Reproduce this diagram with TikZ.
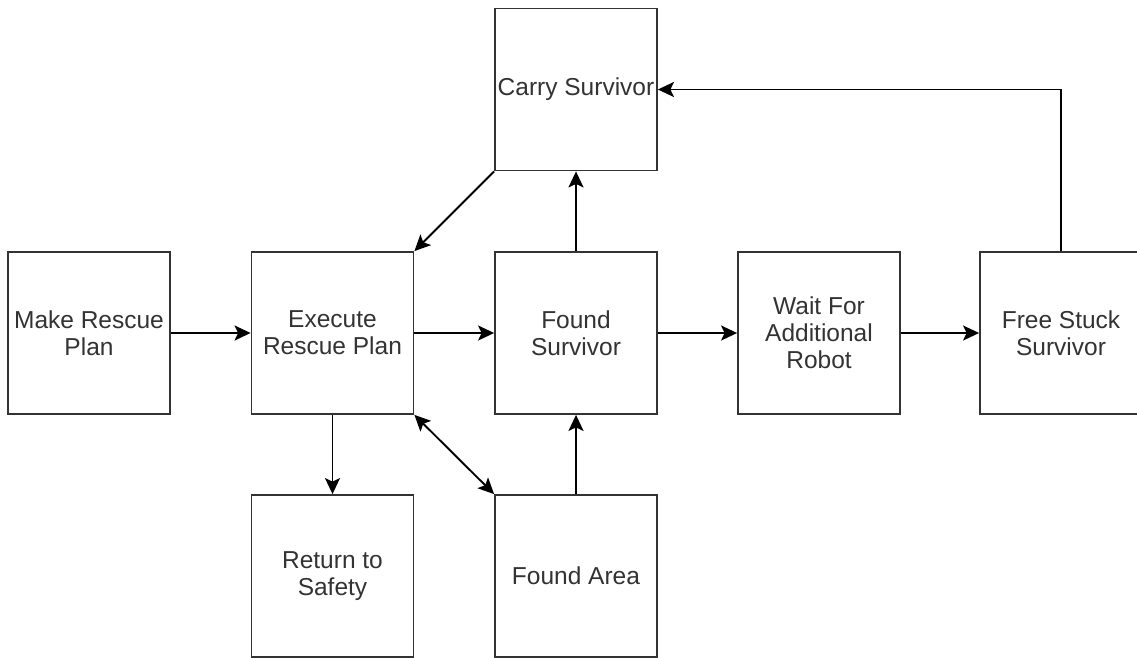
\documentclass[tikz,border=0pt]{standalone}
\usepackage{fontspec}
\setmainfont{Liberation Sans}
\usetikzlibrary{arrows.meta}
\begin{document}
\begin{tikzpicture}[x=1pt,y=-1pt,
  stepbox/.style={draw=black!80, line width=1.8pt, fill=white,
    minimum width=162pt, minimum height=162pt, inner sep=0pt,
    align=center, text=black!80,
    font=\fontsize{24.5}{27}\selectfont},
  tip/.tip={Stealth[length=16pt,width=15pt,inset=3.5pt]},
  flow/.style={draw=black, line width=1.9pt, -tip},
  flow2/.style={draw=black, line width=1.9pt, tip-tip}]
  \useasboundingbox (0,0) rectangle (1137,657);
  \clip (0,0) rectangle (1137,657);

  % boxes on a 243pt grid
  \node[stepbox] (make)  at (89,333)    {Make Rescue\\Plan};
  \node[stepbox] (exec)  at (332.5,333) {Execute\\Rescue Plan};
  \node[stepbox] (found) at (576,333)   {Found\\Survivor};
  \node[stepbox] (wait)  at (819,333)   {Wait For\\Additional\\Robot};
  \node[stepbox] (free)  at (1061,333)  {Free Stuck\\Survivor};
  \node[stepbox] (carry) at (576,89.5)  {Carry Survivor};
  \node[stepbox] (ret)   at (332.5,576) {Return to\\Safety};
  \node[stepbox] (area)  at (576,576)   {Found Area};

  % connectors
  \draw[flow] (make) -- (exec);
  \draw[flow] (exec) -- (found);
  \draw[flow] (found) -- (wait);
  \draw[flow] (wait) -- (free);
  \draw[flow] (found) -- (carry);
  \draw[flow] (area) -- (found);
  \draw[flow] (exec) -- (ret);
  \draw[flow] (carry.south west) -- (exec.north east);
  \draw[flow2] (exec.south east) -- (area.north west);
  \draw[flow] (free.north) |- (carry.east);
\end{tikzpicture}
\end{document}
